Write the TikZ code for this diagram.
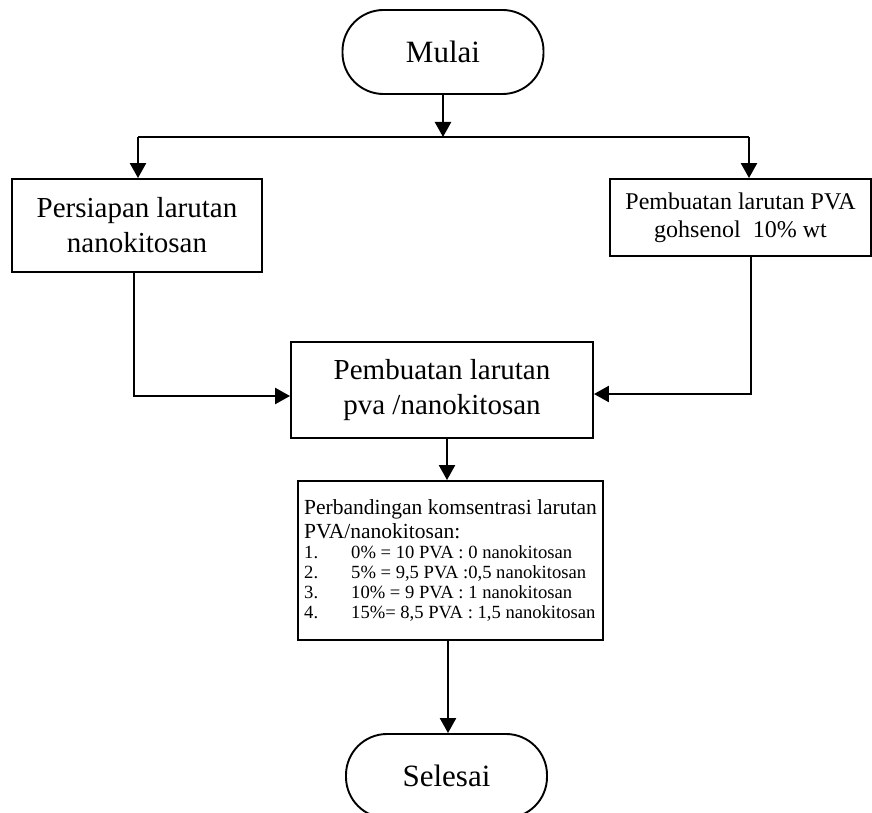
\documentclass[tikz,border=0pt]{standalone}
\usepackage{fontspec}
\setmainfont{Liberation Serif}
\usetikzlibrary{arrows.meta,calc}
\newcommand\itm[2]{{\fontsize{18.6}{20}\selectfont\makebox[47pt][l]{#1}#2}}
\begin{document}
\begin{tikzpicture}[x=1pt,y=1pt,
  box/.style={draw, line width=1.9pt, align=center, inner sep=0pt},
  term/.style={draw, line width=1.9pt, rounded corners=41pt, minimum width=201pt, minimum height=84pt, inner sep=0pt, font=\fontsize{31}{36}\selectfont},
  arr/.style={line width=2.4pt, -{Triangle[length=15pt,width=16pt]}},
  ln/.style={line width=1.8pt}]
\useasboundingbox (0,0) rectangle (872,-813);
% terminals
\node[term] (start) at (443,-52) {Mulai};
\node[term] (stop) at (446.5,-776) {Selesai};
% process boxes
\node[box, minimum width=250pt, minimum height=93pt, font=\fontsize{29}{35}\selectfont] (lb) at (137,-225.5) {Persiapan larutan\\nanokitosan};
\node[box, minimum width=261pt, minimum height=77pt, font=\fontsize{24}{28}\selectfont] (rb) at (740.5,-217.5) {Pembuatan larutan PVA\\gohsenol\ \ 10\% wt};
\node[box, minimum width=302pt, minimum height=96pt, font=\fontsize{29}{35}\selectfont] (mb) at (442,-390) {Pembuatan larutan\\pva /nanokitosan};
\node[box, align=left, minimum width=305pt, minimum height=159pt, font=\fontsize{21.5}{24}\selectfont] (lst) at (450.5,-560.5)
 {Perbandingan komsentrasi larutan\\PVA/nanokitosan:\\[-4pt]
  \itm{1.}{0\% = 10 PVA : 0 nanokitosan}\\[-4.3pt]
  \itm{2.}{5\% = 9,5 PVA :0,5 nanokitosan}\\[-4.3pt]
  \itm{3.}{10\% = 9 PVA : 1 nanokitosan}\\[-4.3pt]
  \itm{4.}{15\%= 8,5 PVA : 1,5 nanokitosan}};
% split
\coordinate (split) at (443,-137);
\coordinate (jl) at (138,-137);
\coordinate (jr) at (749,-137);
\draw[arr] (start.south) -- (split);
\draw[ln] (jl) -- (jr);
\draw[arr] (jl) -- (jl |- lb.north);
\draw[arr] (jr) -- (jr |- rb.north);
% merge
\draw[arr] ([xshift=-3pt]lb.south) |- ([yshift=-6pt]mb.west);
\draw[arr] ([xshift=10.5pt]rb.south) |- ([yshift=-4pt]mb.east);
\draw[arr] ([xshift=5pt]mb.south) -- ([xshift=-3.5pt]lst.north);
\draw[arr] ([xshift=-2.5pt]lst.south) -- ([xshift=1.5pt]stop.north);
\end{tikzpicture}
\end{document}
